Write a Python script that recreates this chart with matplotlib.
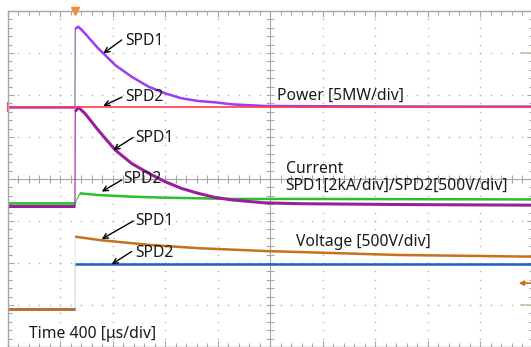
import matplotlib
matplotlib.use("Agg")
import matplotlib.pyplot as plt
import numpy as np

# ---- scope settings ----
time_per_div = 400          # us/div, 10 divs on screen
power_scale = 5             # MW/div
current_scale = 2           # kA/div (SPD1)
current2_scale = 500        # V/div  (SPD2 on current channel)
voltage_scale = 500         # V/div

# channel ground offsets in divisions from screen centre
power_offset = 1.714
current1_offset = -0.643
current2_offset = -0.571
voltage_offset = -3.095

# ---- traces (time in us from left edge) ----
t_p1 = [0, 514, 516, 540, 590, 690, 730, 820, 945, 1075, 1200, 1325, 1455,
        1580, 1710, 1960, 2230, 2990, 4000]
power_spd1 = [0, 0, 9.3, 9.56, 8.77, 6.99, 6.39, 5.0, 3.61, 2.42, 1.63, 1.04,
              0.71, 0.56, 0.32, 0.12, 0.10, 0.06, 0.05]

t_p2 = [0, 4000]
power_spd2 = [0, 0]

t_c1 = [0, 514, 516, 540, 590, 690, 820, 945, 1075, 1200, 1325, 1455, 1580,
        1710, 1960, 2230, 2990, 4000]
current_spd1 = [0, 0, 4.5, 4.70, 4.41, 3.62, 2.67, 2.03, 1.56, 1.16, 0.84,
                0.60, 0.41, 0.29, 0.15, 0.11, 0.07, 0.04]

t_c2 = [0, 514, 552, 690, 945, 1200, 1455, 1710, 2230, 4000]
current_spd2 = [0, 0, 115, 95, 75, 63, 56, 48, 48, 42]

t_v1 = [0, 514, 516, 700, 1085, 1467, 1962, 2975, 4000]
voltage_spd1 = [0, 0, 861, 821, 762, 723, 690, 643, 623]

t_v2 = [0, 514, 516, 4000]
voltage_spd2 = [0, 0, 540, 540]

plt.rcParams["font.family"] = ["Noto Sans", "DejaVu Sans"]

fig = plt.figure(figsize=(5.31, 3.47), dpi=100)
ax = fig.add_axes([7.5 / 531, 0, 525 / 531, 336 / 347])
ax.set_xlim(0, 10 * time_per_div)
ax.set_ylim(-4, 4)

grey = "#a6a6a6"
for s in ax.spines.values():
    s.set_color(grey)
    s.set_linewidth(1)
ax.xaxis.set_major_locator(plt.MultipleLocator(time_per_div))
ax.xaxis.set_minor_locator(plt.MultipleLocator(time_per_div / 5))
ax.yaxis.set_major_locator(plt.MultipleLocator(1))
ax.yaxis.set_minor_locator(plt.MultipleLocator(0.2))
ax.tick_params(which="both", direction="in", top=True, right=True,
               labelbottom=False, labelleft=False, color=grey, width=0.8)
ax.tick_params(which="major", length=4.5)
ax.tick_params(which="minor", length=2.8)

# dotted graticule
ydots = np.arange(-3.8, 4, 0.2)
xdots = np.arange(80, 4000, 80)
for k in range(1, 10):
    if k != 5:
        ax.plot(np.full_like(ydots, k * time_per_div), ydots, ls="none",
                marker="s", ms=1.0, color="#b4b4b4", mew=0)
for k in range(-3, 4):
    if k != 0:
        ax.plot(xdots, np.full_like(xdots, k, dtype=float), ls="none",
                marker="s", ms=1.0, color="#b4b4b4", mew=0)
# centre cross with tick marks
ax.axhline(0, color=grey, lw=0.8)
ax.axvline(2000, color=grey, lw=0.8)
ax.plot(xdots, np.zeros_like(xdots), ls="none", marker="|", ms=6,
        color=grey, mew=0.8)
ax.plot(np.full_like(ydots, 2000), ydots, ls="none", marker="_", ms=6,
        color=grey, mew=0.8)


def trace(t, v, scale, offset, color, lw=1.8, edge_alpha=1.0, edge_color=None):
    y = np.array(v) / scale + offset
    t = np.array(t)
    ax.plot(t, y, color=edge_color or color, lw=0.8, alpha=edge_alpha)
    ax.plot(t[:2], y[:2], color=color, lw=lw, solid_capstyle="butt")
    ax.plot(t[2:], y[2:], color=color, lw=lw, solid_capstyle="butt")


trace(t_v2, voltage_spd2, voltage_scale, voltage_offset, "#1f5fc4",
      edge_alpha=0.15)
trace(t_v1, voltage_spd1, voltage_scale, voltage_offset, "#c8701e",
      edge_alpha=0.2, edge_color="#888888")
trace(t_c2, current_spd2, current2_scale, current2_offset, "#2cc02c")
trace(t_c1, current_spd1, current_scale, current1_offset, "#9a1f9e", lw=2.2)
trace(t_p1, power_spd1, power_scale, power_offset, "#9d3cf2",
      edge_color="#6a6a90")
ax.plot(t_p2, np.array(power_spd2) / power_scale + power_offset,
        color="#ff3a4a", lw=1.2)

# screen markers
ax.plot([514], [4], marker="v", ms=6, color="#ff8a2a", clip_on=False)
ax.plot([0], [power_offset], marker="|", ms=7, mew=1.5, color="#ff3a4a",
        clip_on=False)
ax.annotate("", xy=(3895, -2.48), xytext=(3985, -2.48),
            arrowprops=dict(arrowstyle="-|>", color="#c8701e", lw=1.2,
                            mutation_scale=7, shrinkA=0, shrinkB=0))
for yy in (3, -3):
    ax.plot([3912, 4000], [yy, yy], color="#c8c49a", lw=1.2)

# labels
fs = 11.3
labels = [
    ("SPD1", 895, 3.19), ("SPD2", 895, 1.857),
    ("Power [5MW/div]", 2057, 1.893),
    ("SPD1", 971, 0.888), ("SPD2", 882, -0.102),
    ("Current", 2120, 0.143),
    ("SPD1[2kA/div]/SPD2[500V/div]", 2120, -0.262),
    ("SPD1", 971, -1.095), ("SPD2", 971, -1.85),
    ("Voltage [500V/div]", 2196, -1.595),
    ("Time 400 [\u03bcs/div]", 166, -3.779),
]
for txt, x, y in labels:
    ax.text(x, y, txt, fontsize=fs, color="#1a1a1a", va="baseline",
            ha="left")

arrows = [
    ((870, 3.31), (730, 2.99)),
    ((872, 1.95), (730, 1.74)),
    ((956, 0.988), (806, 0.69)),
    ((870, -0.024), (718, -0.30)),
    ((958, -1.0), (718, -1.43)),
    ((946, -1.726), (794, -2.03)),
]
for tail, head in arrows:
    ax.annotate("", xy=head, xytext=tail,
                arrowprops=dict(arrowstyle="->", color="black", lw=1.0,
                                mutation_scale=9, shrinkA=0, shrinkB=0))

fig.savefig("out.png", dpi=100)
